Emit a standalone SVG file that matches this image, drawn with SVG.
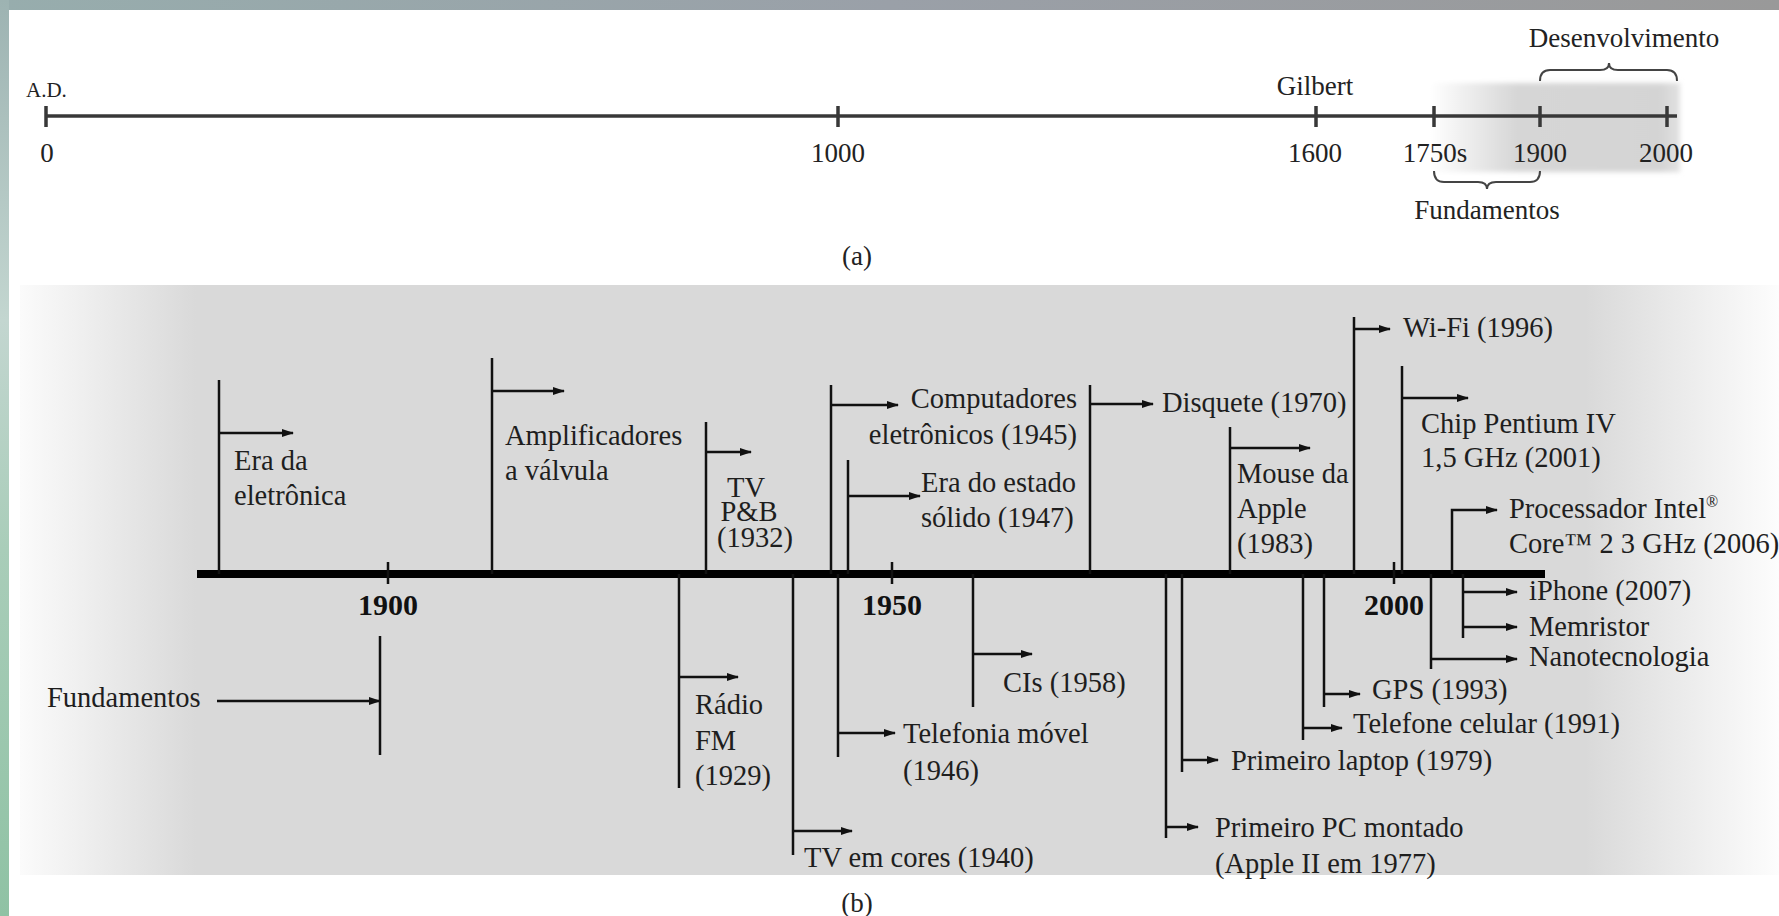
<svg xmlns="http://www.w3.org/2000/svg" width="1779" height="916" viewBox="0 0 1779 916">
<defs>
<linearGradient id="topband" x1="0" y1="0" x2="1" y2="0">
<stop offset="0" stop-color="#97adad"/>
<stop offset="0.5" stop-color="#9aa0a8"/>
<stop offset="1" stop-color="#999999"/>
</linearGradient>
<linearGradient id="leftstrip" x1="0" y1="0" x2="0" y2="1">
<stop offset="0" stop-color="#9db3b2"/>
<stop offset="0.35" stop-color="#c3d6d0"/>
<stop offset="0.6" stop-color="#a9cdb9"/>
<stop offset="1" stop-color="#8fc2a4"/>
</linearGradient>
<linearGradient id="panel" x1="0" y1="0" x2="1" y2="0">
<stop offset="0" stop-color="#fbfbfb"/>
<stop offset="0.1" stop-color="#d9d9d9"/>
<stop offset="0.89" stop-color="#d9d9d9"/>
<stop offset="1" stop-color="#fdfdfd"/>
</linearGradient>
<linearGradient id="shadeA" x1="0" y1="0" x2="1" y2="0">
<stop offset="0" stop-color="#ffffff"/>
<stop offset="0.35" stop-color="#d6d6d6"/>
<stop offset="0.92" stop-color="#d4d4d4"/>
<stop offset="1" stop-color="#e2e2e2"/>
</linearGradient>
<filter id="soft" x="-5%" y="-10%" width="110%" height="120%">
<feGaussianBlur stdDeviation="2.5"/>
</filter>
<marker id="arr" viewBox="0 0 12 8" refX="11" refY="4" markerWidth="12" markerHeight="8" markerUnits="userSpaceOnUse" orient="auto">
<path d="M0,0 L12,4 L0,8 Z" fill="#111"/>
</marker>
<style>
.t{font-family:"Liberation Serif","Times New Roman",serif;fill:#1e1e1e;font-size:28.5px}
.ta{font-family:"Liberation Serif","Times New Roman",serif;fill:#222;font-size:27px}
.tb{font-family:"Liberation Serif","Times New Roman",serif;fill:#111;font-size:30px;font-weight:bold}
.m{text-anchor:middle}
.e{text-anchor:end}
.ln{stroke:#111;stroke-width:2.5;fill:none}
.ar{stroke:#111;stroke-width:2.5;fill:none;marker-end:url(#arr)}
.axa{stroke:#383838;stroke-width:3.5;fill:none}
.br{stroke:#444;stroke-width:2;fill:none}
</style>
</defs>

<!-- frame -->
<rect x="0" y="0" width="1779" height="916" fill="#ffffff"/>
<rect x="0" y="0" width="1779" height="10" fill="url(#topband)"/>
<rect x="0" y="0" width="9" height="916" fill="url(#leftstrip)"/>

<!-- (a) timeline -->
<g id="timeline-a">
<rect x="1430" y="83" width="250" height="89" fill="url(#shadeA)" filter="url(#soft)"/>
<path class="axa" d="M46,116 H1677"/>
<path class="axa" d="M46,106 V127 M838,106 V127 M1316,106 V127 M1434,106 V127 M1540,106 V127 M1667,106 V127"/>
<text class="ta" x="26" y="97" style="font-size:21px">A.D.</text>
<text class="ta m" x="47" y="162">0</text>
<text class="ta m" x="838" y="162">1000</text>
<text class="ta m" x="1315" y="162">1600</text>
<text class="ta m" x="1435" y="162">1750s</text>
<text class="ta m" x="1540" y="162">1900</text>
<text class="ta m" x="1666" y="162">2000</text>
<text class="ta m" x="1315" y="95">Gilbert</text>
</g>
<g id="desenvolvimento">
<path class="br" d="M1540,81 Q1540,70 1550,70 H1600 Q1609,70 1609,63 Q1609,70 1618,70 H1667 Q1677,70 1677,81"/>
<text class="ta m" x="1624" y="47">Desenvolvimento</text>
</g>
<g id="fundamentos-a">
<path class="br" d="M1434,171 Q1434,182 1444,182 H1478 Q1487,182 1487,189 Q1487,182 1496,182 H1530 Q1540,182 1540,171"/>
<text class="ta m" x="1487" y="219">Fundamentos</text>
</g>
<text class="ta m" x="857" y="265">(a)</text>

<!-- (b) panel -->
<rect x="20" y="285" width="1759" height="590" fill="url(#panel)"/>

<g id="connectors">
<path d="M197,574 H1545" stroke="#000" stroke-width="8"/>
<path class="ln" d="M388,562 V584 M892,562 V584 M1394,562 V584"/>
<!-- above -->
<path class="ln" d="M219,574 V380"/><path class="ar" d="M219,433 H293"/>
<path class="ln" d="M492,574 V358"/><path class="ar" d="M492,391 H564"/>
<path class="ln" d="M706,574 V422"/><path class="ar" d="M706,452 H751"/>
<path class="ln" d="M831,574 V385"/><path class="ar" d="M831,405 H898"/>
<path class="ln" d="M848,574 V460"/><path class="ar" d="M848,496 H920"/>
<path class="ln" d="M1090,574 V385"/><path class="ar" d="M1090,404 H1153"/>
<path class="ln" d="M1230,574 V427"/><path class="ar" d="M1230,448 H1310"/>
<path class="ln" d="M1354,574 V317"/><path class="ar" d="M1354,329 H1390"/>
<path class="ln" d="M1402,574 V366"/><path class="ar" d="M1402,398 H1468"/>
<path class="ar" d="M1452,574 V510 H1497"/>
<!-- below -->
<path class="ln" d="M380,636 V755"/><path class="ar" d="M217,701 H380"/>
<path class="ln" d="M679,574 V788"/><path class="ar" d="M679,677 H738"/>
<path class="ln" d="M793,574 V855"/><path class="ar" d="M793,831 H852"/>
<path class="ln" d="M838,574 V757"/><path class="ar" d="M838,733 H895"/>
<path class="ln" d="M973,574 V707"/><path class="ar" d="M973,654 H1032"/>
<path class="ln" d="M1166,574 V838"/><path class="ar" d="M1166,827 H1198"/>
<path class="ln" d="M1182,574 V772"/><path class="ar" d="M1182,760 H1218"/>
<path class="ln" d="M1303,574 V740"/><path class="ar" d="M1303,728 H1342"/>
<path class="ln" d="M1324,574 V707"/><path class="ar" d="M1324,694 H1360"/>
<path class="ln" d="M1431,574 V669"/><path class="ar" d="M1431,659 H1517"/>
<path class="ln" d="M1463,574 V638"/><path class="ar" d="M1463,592 H1517"/><path class="ar" d="M1463,627 H1517"/>
</g>

<g id="axis-labels-b">
<text class="tb m" x="388" y="615">1900</text>
<text class="tb m" x="892" y="615">1950</text>
<text class="tb m" x="1394" y="615">2000</text>
</g>

<g id="n-era-eletronica"><text class="t" x="234" y="470">Era da</text><text class="t" x="234" y="505">eletrônica</text></g>
<g id="n-amplificadores"><text class="t" x="505" y="445">Amplificadores</text><text class="t" x="505" y="480">a válvula</text></g>
<g id="n-tv-pb"><text class="t m" x="746" y="497">TV</text><text class="t m" x="749" y="521">P&amp;B</text><text class="t m" x="755" y="547">(1932)</text></g>
<g id="n-computadores"><text class="t e" x="1077" y="408">Computadores</text><text class="t e" x="1077" y="444">eletrônicos (1945)</text></g>
<g id="n-estado-solido"><text class="t" x="921" y="492">Era do estado</text><text class="t" x="921" y="527">sólido (1947)</text></g>
<g id="n-disquete"><text class="t" x="1162" y="412">Disquete (1970)</text></g>
<g id="n-mouse"><text class="t" x="1237" y="483">Mouse da</text><text class="t" x="1237" y="518">Apple</text><text class="t" x="1237" y="553">(1983)</text></g>
<g id="n-wifi"><text class="t" x="1403" y="337">Wi-Fi (1996)</text></g>
<g id="n-pentium"><text class="t" x="1421" y="433">Chip Pentium IV</text><text class="t" x="1421" y="467">1,5 GHz (2001)</text></g>
<g id="n-core2"><text class="t" x="1509" y="518">Processador Intel<tspan dy="-11" style="font-size:16px">®</tspan></text><text class="t" x="1509" y="553">Core™ 2 3 GHz (2006)</text></g>

<g id="n-fundamentos"><text class="t" x="47" y="707">Fundamentos</text></g>
<g id="n-radio-fm"><text class="t" x="695" y="714">Rádio</text><text class="t" x="695" y="750">FM</text><text class="t" x="695" y="785">(1929)</text></g>
<g id="n-tv-cores"><text class="t" x="804" y="867">TV em cores (1940)</text></g>
<g id="n-telefonia"><text class="t" x="903" y="743">Telefonia móvel</text><text class="t" x="903" y="780">(1946)</text></g>
<g id="n-cis"><text class="t" x="1003" y="692">CIs (1958)</text></g>
<g id="n-primeiro-pc"><text class="t" x="1215" y="837">Primeiro PC montado</text><text class="t" x="1215" y="873">(Apple II em 1977)</text></g>
<g id="n-laptop"><text class="t" x="1231" y="770">Primeiro laptop (1979)</text></g>
<g id="n-celular"><text class="t" x="1353" y="733">Telefone celular (1991)</text></g>
<g id="n-gps"><text class="t" x="1372" y="699">GPS (1993)</text></g>
<g id="n-nano"><text class="t" x="1529" y="666">Nanotecnologia</text></g>
<g id="n-iphone"><text class="t" x="1529" y="600">iPhone (2007)</text></g>
<g id="n-memristor"><text class="t" x="1529" y="636">Memristor</text></g>

<text class="ta m" x="857" y="912">(b)</text>
</svg>
